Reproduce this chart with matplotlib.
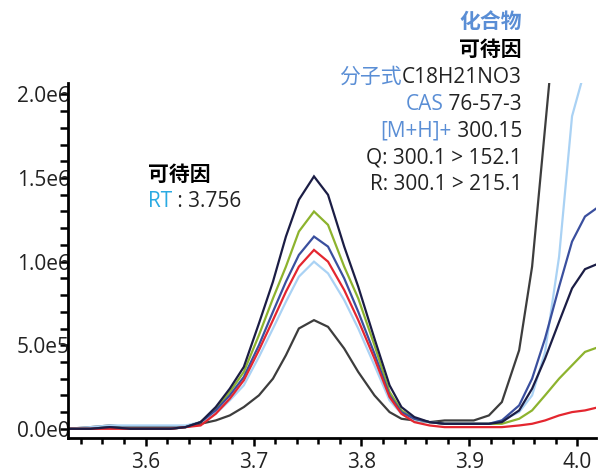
import numpy as np
import matplotlib.pyplot as plt
from matplotlib.ticker import FixedLocator

plt.rcParams['font.family'] = ['Open Sans', 'Noto Sans CJK SC', 'DejaVu Sans']

# retention time (min)
rt = [3.528, 3.549, 3.567, 3.586, 3.605, 3.623, 3.637, 3.651, 3.665, 3.678,
      3.691, 3.705, 3.718, 3.730, 3.742, 3.756, 3.769, 3.784, 3.797, 3.812,
      3.826, 3.837, 3.849, 3.863, 3.877, 3.891, 3.904, 3.918, 3.930, 3.946,
      3.958, 3.970, 3.983, 3.995, 4.007, 4.020]

# intensities, x1e6
gray = [0, 0.01, 0.02, 0.01, 0.01, 0.01, 0.01, 0.03, 0.05, 0.08, 0.13, 0.20, 0.30, 0.44, 0.60, 0.65,
        0.61, 0.48, 0.34, 0.20, 0.10, 0.06, 0.05, 0.04, 0.05, 0.05, 0.05, 0.08, 0.16, 0.47, 0.97,
        1.80, 2.70, 3.20, 3.50, 3.60]
lightblue = [0, 0.01, 0.02, 0.02, 0.02, 0.02, 0.02, 0.04, 0.09, 0.17, 0.26, 0.43, 0.60, 0.76, 0.91,
             1.00, 0.93, 0.77, 0.60, 0.38, 0.17, 0.09, 0.05, 0.04, 0.03, 0.03, 0.03, 0.03, 0.05,
             0.10, 0.20, 0.46, 1.03, 1.87, 2.15, 2.45]
green = [0, 0, 0.01, 0, 0, 0, 0.01, 0.04, 0.12, 0.22, 0.34, 0.56, 0.78, 0.97, 1.18, 1.30, 1.22,
         0.97, 0.78, 0.50, 0.22, 0.11, 0.06, 0.04, 0.03, 0.03, 0.03, 0.03, 0.03, 0.06, 0.11, 0.20,
         0.30, 0.38, 0.46, 0.49]
blue = [0, 0, 0.01, 0, 0, 0, 0.01, 0.04, 0.11, 0.20, 0.31, 0.50, 0.70, 0.88, 1.04, 1.15, 1.09,
        0.90, 0.70, 0.45, 0.20, 0.10, 0.06, 0.04, 0.03, 0.03, 0.03, 0.03, 0.05, 0.14, 0.30, 0.54,
        0.85, 1.12, 1.27, 1.33]
red = [0, 0, 0, 0, 0, 0, 0.01, 0.02, 0.09, 0.18, 0.29, 0.47, 0.65, 0.82, 0.97, 1.07, 1.00, 0.83,
       0.65, 0.42, 0.19, 0.09, 0.04, 0.02, 0.01, 0.01, 0.01, 0.01, 0.01, 0.02, 0.03, 0.05, 0.08,
       0.10, 0.11, 0.13]
navy = [0, 0, 0.01, 0, 0, 0, 0.01, 0.04, 0.13, 0.24, 0.37, 0.63, 0.88, 1.15, 1.37, 1.51, 1.40,
        1.09, 0.85, 0.54, 0.26, 0.13, 0.07, 0.04, 0.03, 0.03, 0.03, 0.03, 0.04, 0.11, 0.24, 0.42,
        0.64, 0.84, 0.955, 0.99]

traces = [(gray, '#3d3d3d'), (lightblue, '#aad2f4'), (green, '#8db32e'),
          (blue, '#3a4f9e'), (red, '#e4262f'), (navy, '#1b1d45')]

x_ticks = [3.6, 3.7, 3.8, 3.9, 4.0]
x_tick_labels = ['3.6', '3.7', '3.8', '3.9', '4.0']
y_ticks = [0, 0.5e6, 1.0e6, 1.5e6, 2.0e6]
y_tick_labels = ['0.0e0', '5.0e5', '1.0e6', '1.5e6', '2.0e6']

BLUE = '#5a8ed5'
DARK = '#222222'
FS = 15

fig = plt.figure(figsize=(6, 4.73), dpi=100)
ax = fig.add_axes([0.113, 0.074, 0.88, 0.751])

for vals, col in traces:
    ax.plot(rt, np.array(vals) * 1e6, color=col, lw=1.6, solid_joinstyle='miter')

ax.set_xlim(3.528, 4.017)
ax.set_ylim(-0.055e6, 2.07e6)
for s in ['top', 'right']:
    ax.spines[s].set_visible(False)
for s in ['left', 'bottom']:
    ax.spines[s].set_linewidth(2)

ax.xaxis.set_major_locator(FixedLocator(x_ticks))
ax.set_xticklabels(x_tick_labels)
ax.xaxis.set_minor_locator(FixedLocator(np.arange(3.54, 4.02, 0.02)))
ax.yaxis.set_major_locator(FixedLocator(y_ticks))
ax.set_yticklabels(y_tick_labels)
ax.yaxis.set_minor_locator(FixedLocator(np.arange(0, 2.05e6, 1e5)))
ax.tick_params(axis='x', which='major', length=6, width=1.8, pad=4, labelsize=FS, labelcolor=DARK)
ax.tick_params(axis='x', which='minor', length=4.5, width=1.8)
ax.tick_params(axis='y', which='both', length=6, width=1.8)
ax.tick_params(axis='y', which='major', pad=-7.5, labelsize=FS, labelcolor=DARK)

fig.canvas.draw()
renderer = fig.canvas.get_renderer()
inv = fig.transFigure.inverted()


def put_line(x, y, parts, ha='right'):
    # parts: (text, colour, weight); placed one after another
    seq = reversed(parts) if ha == 'right' else parts
    for s, col, w in seq:
        t = fig.text(x, y, s, color=col, fontweight=w, ha=ha, va='center', fontsize=FS)
        bb = t.get_window_extent(renderer)
        x = inv.transform((bb.x0 if ha == 'right' else bb.x1, 0))[0]


xr = 0.87
put_line(xr, 0.9535, [('化合物', BLUE, 'bold')])
put_line(xr, 0.894, [('可待因', 'black', 'bold')])
put_line(xr, 0.837, [('分子式', BLUE, 'normal'), ('C18H21NO3', DARK, 'normal')])
put_line(xr, 0.780, [('CAS', BLUE, 'normal'), (' 76-57-3', DARK, 'normal')])
put_line(xr, 0.723, [('[M+H]+', BLUE, 'normal'), (' 300.15', DARK, 'normal')])
put_line(xr, 0.666, [('Q: 300.1 > 152.1', DARK, 'normal')])
put_line(xr, 0.609, [('R: 300.1 > 215.1', DARK, 'normal')])

put_line(0.2467, 0.630, [('可待因', 'black', 'bold')], ha='left')
put_line(0.2467, 0.575, [('RT', '#2aaae2', 'normal'), (' : 3.756', DARK, 'normal')], ha='left')

plt.savefig('out.png', dpi=100)
plt.close('all')
